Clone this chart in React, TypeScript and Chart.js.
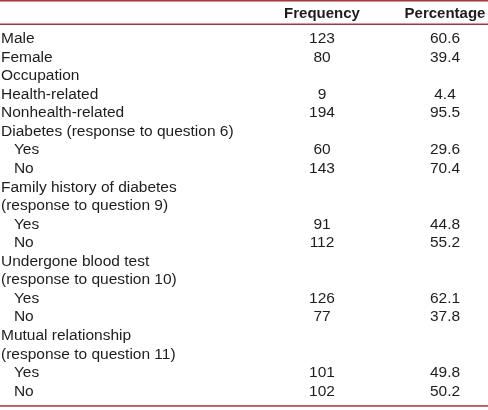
import React, { useEffect, useRef } from "react";
import { Chart, registerables } from "chart.js";

Chart.register(...registerables);

const columnHeaders: string[] = ["Frequency", "Percentage"];

const rowLabels: string[] = [
  "Male",
  "Female",
  "Occupation",
  "Health-related",
  "Nonhealth-related",
  "Diabetes (response to question 6)",
  "Yes",
  "No",
  "Family history of diabetes",
  "(response to question 9)",
  "Yes",
  "No",
  "Undergone blood test",
  "(response to question 10)",
  "Yes",
  "No",
  "Mutual relationship",
  "(response to question 11)",
  "Yes",
  "No",
];

const indentedRows: boolean[] = [
  false, false, false, false, false, false, true, true, false, false,
  true, true, false, false, true, true, false, false, true, true,
];

const frequency: (number | null)[] = [
  123, 80, null, 9, 194, null, 60, 143, null, null,
  91, 112, null, null, 126, 77, null, null, 101, 102,
];

const percentage: (number | null)[] = [
  60.6, 39.4, null, 4.4, 95.5, null, 29.6, 70.4, null, null,
  44.8, 55.2, null, null, 62.1, 37.8, null, null, 49.8, 50.2,
];

const FONT_FAMILY = '"Liberation Sans", Arial, Helvetica, sans-serif';
const TEXT_COLOR = "#1f1c1d";
const RULE_COLOR = "#a8343c";
const BODY_SIZE = 15.5;

const displayLabels = rowLabels.map((l, i) => (indentedRows[i] ? "   " + l : l));

const tablePlugin = {
  id: "tableCells",
  afterDraw(chart: any) {
    const ctx: CanvasRenderingContext2D = chart.ctx;
    const xs = chart.scales.x;
    const ys = chart.scales.y;
    const area = chart.chartArea;
    ctx.save();
    // rules
    ctx.fillStyle = RULE_COLOR;
    ctx.fillRect(0, 0, chart.width, 1.5);
    ctx.fillRect(0, area.top - 6, chart.width, 1.5);
    ctx.fillRect(0, area.bottom + 4.5, chart.width, 1.5);
    // cell values
    ctx.fillStyle = TEXT_COLOR;
    ctx.font = `${BODY_SIZE}px ${FONT_FAMILY}`;
    ctx.textAlign = "center";
    ctx.textBaseline = "middle";
    const cols = [frequency, percentage];
    cols.forEach((col, ci) => {
      const x = xs.getPixelForValue(ci);
      col.forEach((v, ri) => {
        if (v === null) return;
        const y = ys.getPixelForValue(ri);
        const txt = ci === 1 ? v.toFixed(1) : String(v);
        ctx.fillText(txt, x, y);
      });
    });
    ctx.restore();
  },
};

export default function App() {
  const ref = useRef<HTMLCanvasElement | null>(null);

  useEffect(() => {
    if (!ref.current) return;
    const chart = new Chart(ref.current, {
      type: "bar",
      data: {
        labels: displayLabels,
        datasets: [],
      },
      options: {
        animation: false,
        responsive: false,
        devicePixelRatio: 1,
        layout: { padding: { left: 1, right: 43, top: 0, bottom: 5.5 } },
        plugins: {
          legend: { display: false },
          tooltip: { enabled: false },
        },
        scales: {
          x: {
            type: "category",
            labels: columnHeaders,
            position: "top",
            offset: false,
            grid: { display: false },
            border: { display: false },
            ticks: {
              autoSkip: false,
              maxRotation: 0,
              padding: -1,
              color: TEXT_COLOR,
              font: { family: FONT_FAMILY, size: 15, weight: "bold" },
            },
            afterFit: (s: any) => {
              s.height = 29.5;
            },
          },
          y: {
            type: "category",
            labels: displayLabels,
            offset: true,
            grid: { display: false },
            border: { display: false },
            ticks: {
              autoSkip: false,
              crossAlign: "far",
              padding: 0,
              color: TEXT_COLOR,
              font: { family: FONT_FAMILY, size: BODY_SIZE },
            },
            afterFit: (s: any) => {
              s.width = 321;
            },
          },
        },
      } as any,
      plugins: [tablePlugin],
    });
    return () => chart.destroy();
  }, []);

  return (
    <div style={{ position: "fixed", left: 0, top: 0, width: 488, height: 410, background: "#fff" }}>
      <canvas ref={ref} width={488} height={410} />
    </div>
  );
}
